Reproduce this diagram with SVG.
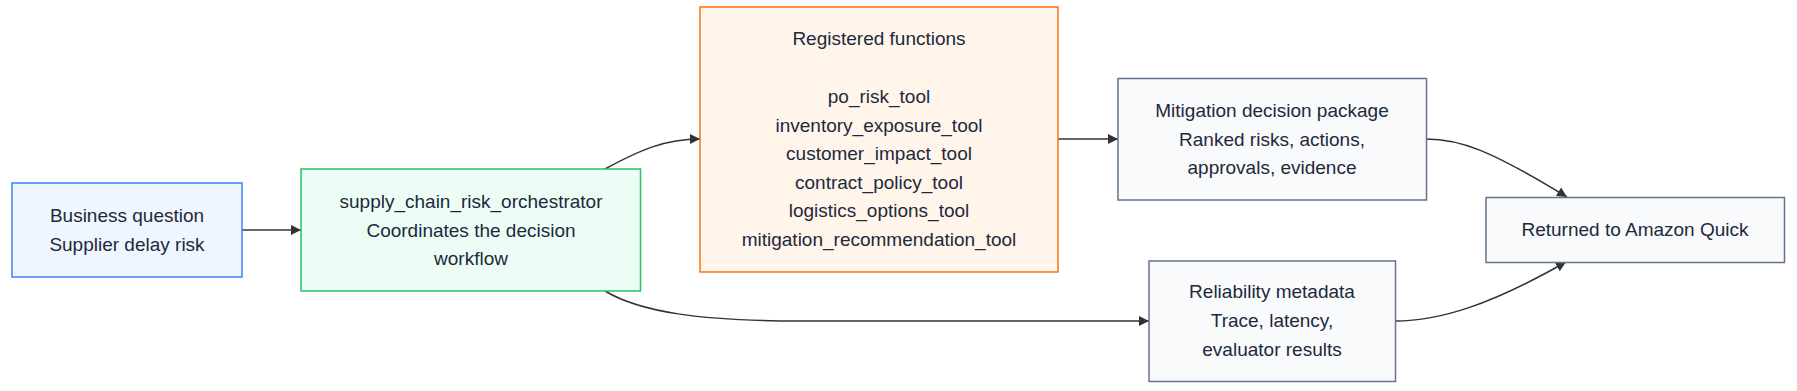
<svg xmlns="http://www.w3.org/2000/svg" width="1797" height="391" viewBox="0 0 1797 391">
<style>
text{font-family:"Liberation Sans",Arial,sans-serif;font-size:19px;fill:#1e293b;text-anchor:middle;dominant-baseline:central}
.edge{fill:none;stroke:#333;stroke-width:1.5}
.blue{fill:#eff6ff;stroke:#3b82f6;stroke-width:1.5}
.green{fill:#ecfdf5;stroke:#22c55e;stroke-width:1.5}
.orange{fill:#fff5eb;stroke:#f97316;stroke-width:1.5}
.slate{fill:#f8fafc;stroke:#64748b;stroke-width:1.5}
</style>
<defs>
<marker id="arrow" markerUnits="userSpaceOnUse" markerWidth="10" markerHeight="10" refX="10" refY="5" orient="auto"><path d="M0,0 L10,5 L0,10 z" fill="#333"/></marker>
</defs>
<rect width="1797" height="391" fill="#ffffff"/>
<g id="edges">
<path class="edge" d="M242,230 L301,230" marker-end="url(#arrow)"/>
<path class="edge" d="M605,169 C640,150 665,139 700,139" marker-end="url(#arrow)"/>
<path class="edge" d="M605,291 C640,312 700,321 800,321 L1149,321" marker-end="url(#arrow)"/>
<path class="edge" d="M1058,139 L1118,139" marker-end="url(#arrow)"/>
<path class="edge" d="M1426,139 C1460,139 1490,150 1567,197" marker-end="url(#arrow)"/>
<path class="edge" d="M1395,321 C1440,321 1490,305 1566,262" marker-end="url(#arrow)"/>
</g>
<g id="business">
<rect class="blue" x="12" y="183" width="230" height="94"/>
<text x="127" y="215.5">Business question</text>
<text x="127" y="244.5">Supplier delay risk</text>
</g>
<g id="orchestrator">
<rect class="green" x="301" y="169" width="339.5" height="122"/>
<text x="471" y="201">supply_chain_risk_orchestrator</text>
<text x="471" y="230">Coordinates the decision</text>
<text x="471" y="258.5">workflow</text>
</g>
<g id="registered">
<rect class="orange" x="700" y="7" width="358" height="265"/>
<text x="879" y="38">Registered functions</text>
<text x="879" y="96">po_risk_tool</text>
<text x="879" y="125">inventory_exposure_tool</text>
<text x="879" y="153.5">customer_impact_tool</text>
<text x="879" y="182">contract_policy_tool</text>
<text x="879" y="210.5">logistics_options_tool</text>
<text x="879" y="239">mitigation_recommendation_tool</text>
</g>
<g id="mitigation">
<rect class="slate" x="1118" y="78.5" width="308.5" height="121.5"/>
<text x="1272" y="110.5">Mitigation decision package</text>
<text x="1272" y="139">Ranked risks, actions,</text>
<text x="1272" y="167.5">approvals, evidence</text>
</g>
<g id="reliability">
<rect class="slate" x="1149" y="261" width="246.5" height="120.5"/>
<text x="1272" y="291.5">Reliability metadata</text>
<text x="1272" y="320.5">Trace, latency,</text>
<text x="1272" y="349">evaluator results</text>
</g>
<g id="returned">
<rect class="slate" x="1486" y="197.5" width="298.5" height="65"/>
<text x="1635" y="229.5">Returned to Amazon Quick</text>
</g>
</svg>
